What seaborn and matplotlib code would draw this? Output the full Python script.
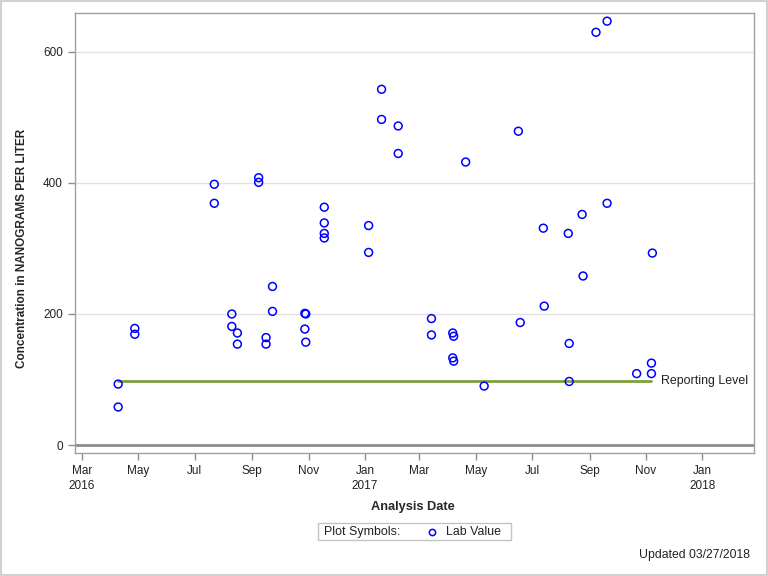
import pandas as pd
import matplotlib
matplotlib.use('Agg')
import matplotlib.pyplot as plt
import matplotlib.dates as mdates
from matplotlib.lines import Line2D
from matplotlib.patches import Rectangle
import seaborn as sns

# Lab results
sample_dates = ['2016-04-09', '2016-04-09', '2016-04-27', '2016-04-27',
                '2016-07-22', '2016-07-22', '2016-08-10', '2016-08-10',
                '2016-08-16', '2016-08-16', '2016-09-08', '2016-09-08',
                '2016-09-16', '2016-09-16', '2016-09-23', '2016-09-23',
                '2016-10-28', '2016-10-29', '2016-10-28', '2016-10-29',
                '2016-11-18', '2016-11-18', '2016-11-18', '2016-11-18',
                '2017-01-05', '2017-01-05', '2017-01-19', '2017-01-19',
                '2017-02-06', '2017-02-06', '2017-03-14', '2017-03-14',
                '2017-04-06', '2017-04-07', '2017-04-06', '2017-04-07',
                '2017-04-20', '2017-05-10', '2017-06-16', '2017-06-18',
                '2017-07-13', '2017-07-14', '2017-08-09', '2017-08-10',
                '2017-08-10', '2017-08-24', '2017-08-25', '2017-09-08',
                '2017-09-20', '2017-09-20', '2017-10-22', '2017-11-07',
                '2017-11-07', '2017-11-08']
lab_values = [93, 58, 178, 169,
              398, 369, 200, 181,
              171, 154, 408, 401,
              164, 154, 242, 204,
              201, 200, 177, 157,
              363, 339, 323, 316,
              335, 294, 543, 497,
              487, 445, 193, 168,
              171, 166, 133, 128,
              432, 90, 479, 187,
              331, 212, 323, 155,
              97, 352, 258, 630,
              647, 369, 109, 125,
              109, 293]

# Reporting level line
report_dates = ['2016-04-09', '2016-10-19', '2016-10-19', '2017-11-07']
report_levels = [98, 98, 97, 97]

df = pd.DataFrame({'date': pd.to_datetime(sample_dates), 'value': lab_values})
rl = pd.DataFrame({'date': pd.to_datetime(report_dates), 'level': report_levels})

sns.set_style('white')
plt.rcParams['font.family'] = ['Liberation Sans', 'DejaVu Sans']

fig = plt.figure(figsize=(7.68, 5.76), dpi=100)
ax = fig.add_axes([0.0973, 0.214, 0.8845, 0.7629])

# gridlines and zero line
for yv in [200, 400, 600]:
    ax.axhline(yv, color='#e2e2e2', lw=1, zorder=0)
ax.axhline(0, color='#8c8c8c', lw=2, zorder=1)

sns.lineplot(data=rl, x='date', y='level', color='#7f9f3f', lw=2,
             ax=ax, zorder=2, estimator=None, sort=False)
sns.scatterplot(data=df, x='date', y='value', ax=ax, marker='o',
                facecolor='none', edgecolor='#0000ff', linewidth=1.1,
                s=32, zorder=3)

ax.text(pd.Timestamp('2017-11-17'), 97, 'Reporting Level', fontsize=8.9,
        va='center', ha='left', color='#222222')

ax.set_xlim(pd.Timestamp('2016-02-22'), pd.Timestamp('2018-02-26'))
ax.set_ylim(-11.8, 659)
ax.set_yticks([0, 200, 400, 600])

ax.xaxis.set_major_locator(mdates.MonthLocator(bymonth=[1, 3, 5, 7, 9, 11]))


def fmt_date(x, pos):
    d = mdates.num2date(x)
    if d.month == 1 or pos == 0:
        return d.strftime('%b\n%Y')
    return d.strftime('%b')


ax.xaxis.set_major_formatter(plt.FuncFormatter(fmt_date))
ax.tick_params(axis='both', which='major', direction='out', length=5,
               width=1, color='#8c8c8c', labelsize=8.5, labelcolor='#222222',
               bottom=True, left=True)
ax.tick_params(axis='x', pad=4)
for lbl in ax.get_xticklabels():
    lbl.set_linespacing(1.35)
for sp in ax.spines.values():
    sp.set_color('#a0a0a0')
    sp.set_linewidth(1)

ax.set_xlabel('Analysis Date', fontsize=9.2, fontweight='bold')
ax.xaxis.set_label_coords((413 - 74.7) / 679.3, (452.7 - 501) / 439.4)
ax.set_ylabel('Concentration in NANOGRAMS PER LITER', fontsize=8.5,
              fontweight='bold')
ax.yaxis.set_label_coords((28 - 74.7) / 679.3, (452.7 - 248) / 439.4)

# legend box: "Plot Symbols:  o Lab Value"
W, H = 768, 576
fig.patches.append(Rectangle((317.5 / W, 1 - 540 / H), 193 / W, 16.7 / H,
                             transform=fig.transFigure, fill=False,
                             edgecolor='#c4c4c4', lw=1))
fig.text(323.5 / W, 1 - 531.7 / H, 'Plot Symbols:', fontsize=8.9,
         ha='left', va='center', color='#222222')
fig.lines.append(Line2D([432.3 / W], [1 - 531.7 / H], transform=fig.transFigure,
                        linestyle='none', marker='o', markersize=4.5,
                        markerfacecolor='none', markeredgecolor='#0000ff',
                        markeredgewidth=1.1))
fig.text(446 / W, 1 - 531.7 / H, 'Lab Value', fontsize=8.9,
         ha='left', va='center', color='#222222')

fig.text(750 / W, 1 - 555 / H, 'Updated 03/27/2018', fontsize=8.8,
         ha='right', va='center', color='#222222')

fig.patches.append(Rectangle((0.001, 0.001), 0.998, 0.998, transform=fig.transFigure,
                             fill=False, edgecolor='#d0d0d0', lw=1.5))

plt.savefig('out.png', dpi=100)
plt.close()
